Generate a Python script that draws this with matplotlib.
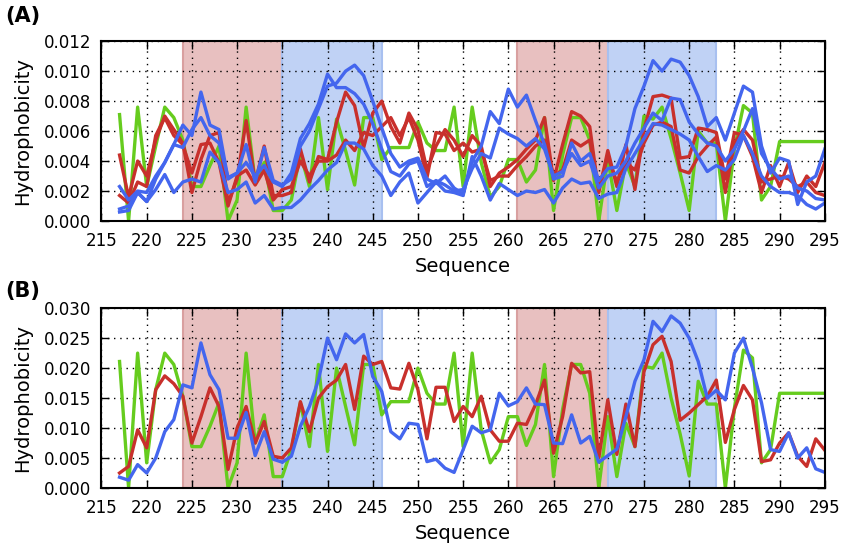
import matplotlib
matplotlib.use("Agg")
import matplotlib.pyplot as plt
import numpy as np

seq = np.arange(217, 296)

# panel (A)
green_a = [0.0071, 0.0000, 0.0076, 0.0023, 0.0050, 0.0076, 0.0069, 0.0054, 0.0023, 0.0023,
           0.0037, 0.0050, 0.0000, 0.0014, 0.0076, 0.0026, 0.0039, 0.0007, 0.0007,
           0.0014, 0.0045, 0.0023, 0.0069, 0.0021, 0.0068, 0.0047, 0.0024, 0.0069, 0.0069,
           0.0041, 0.0049, 0.0049, 0.0049, 0.0066, 0.0052, 0.0047, 0.0047, 0.0076, 0.0023, 0.0076,
           0.0039, 0.0016, 0.0023, 0.0041, 0.0041, 0.0026, 0.0034, 0.0069, 0.0007, 0.0044,
           0.0069, 0.0069, 0.0054, 0.0000, 0.0041, 0.0007, 0.0039, 0.0023, 0.0070, 0.0068, 0.0076,
           0.0055, 0.0032, 0.0007, 0.0060, 0.0052, 0.0052, 0.0000, 0.0048, 0.0077, 0.0072,
           0.0014, 0.0023, 0.0053, 0.0053, 0.0053, 0.0053, 0.0053, 0.0053]
red_a1 = [0.0044, 0.0016, 0.0040, 0.0030, 0.0054, 0.0070, 0.0061, 0.0052, 0.0019, 0.0041,
          0.0057, 0.0059, 0.0012, 0.0028, 0.0067, 0.0026, 0.0050, 0.0017, 0.0017,
          0.0019, 0.0048, 0.0026, 0.0043, 0.0041, 0.0066, 0.0086, 0.0077, 0.0049, 0.0072,
          0.0080, 0.0063, 0.0052, 0.0072, 0.0061, 0.0034, 0.0050, 0.0061, 0.0054, 0.0043, 0.0057,
          0.0050, 0.0023, 0.0032, 0.0036, 0.0041, 0.0048, 0.0054, 0.0069, 0.0027, 0.0051,
          0.0073, 0.0070, 0.0063, 0.0019, 0.0047, 0.0023, 0.0051, 0.0021, 0.0061, 0.0083, 0.0084,
          0.0082, 0.0042, 0.0043, 0.0062, 0.0061, 0.0059, 0.0028, 0.0059, 0.0057, 0.0043,
          0.0019, 0.0037, 0.0023, 0.0039, 0.0019, 0.0030, 0.0023, 0.0039]
red_a2 = [0.0017, 0.0012, 0.0026, 0.0023, 0.0057, 0.0069, 0.0057, 0.0051, 0.0032, 0.0051,
          0.0052, 0.0039, 0.0010, 0.0030, 0.0034, 0.0024, 0.0034, 0.0014, 0.0021,
          0.0023, 0.0040, 0.0030, 0.0040, 0.0040, 0.0044, 0.0054, 0.0047, 0.0059, 0.0057,
          0.0063, 0.0069, 0.0057, 0.0069, 0.0054, 0.0029, 0.0059, 0.0058, 0.0047, 0.0052, 0.0046,
          0.0048, 0.0027, 0.0030, 0.0030, 0.0037, 0.0043, 0.0050, 0.0054, 0.0030, 0.0034,
          0.0054, 0.0050, 0.0054, 0.0021, 0.0043, 0.0026, 0.0039, 0.0034, 0.0052, 0.0064, 0.0066,
          0.0063, 0.0034, 0.0032, 0.0043, 0.0050, 0.0056, 0.0019, 0.0052, 0.0061, 0.0054,
          0.0026, 0.0028, 0.0030, 0.0028, 0.0023, 0.0026, 0.0019, 0.0017]
blue_a1 = [0.0023, 0.0014, 0.0020, 0.0019, 0.0030, 0.0039, 0.0051, 0.0064, 0.0057, 0.0086,
           0.0064, 0.0061, 0.0028, 0.0032, 0.0051, 0.0026, 0.0049, 0.0027, 0.0024,
           0.0028, 0.0050, 0.0060, 0.0075, 0.0090, 0.0092, 0.0100, 0.0104, 0.0097, 0.0080,
           0.0062, 0.0045, 0.0036, 0.0040, 0.0042, 0.0028, 0.0025, 0.0030, 0.0022, 0.0018, 0.0040,
           0.0050, 0.0073, 0.0065, 0.0088, 0.0076, 0.0084, 0.0067, 0.0051, 0.0028, 0.0030,
           0.0052, 0.0040, 0.0045, 0.0027, 0.0035, 0.0036, 0.0050, 0.0075, 0.0090, 0.0107, 0.0100,
           0.0108, 0.0106, 0.0097, 0.0083, 0.0063, 0.0069, 0.0054, 0.0072, 0.0090, 0.0086,
           0.0050, 0.0032, 0.0042, 0.0040, 0.0011, 0.0026, 0.0030, 0.0048]
blue_a2 = [0.0008, 0.0010, 0.0019, 0.0013, 0.0028, 0.0039, 0.0051, 0.0049, 0.0061, 0.0069,
           0.0057, 0.0052, 0.0029, 0.0032, 0.0039, 0.0030, 0.0037, 0.0026, 0.0023,
           0.0032, 0.0055, 0.0065, 0.0078, 0.0098, 0.0089, 0.0089, 0.0085, 0.0078, 0.0065,
           0.0048, 0.0033, 0.0030, 0.0038, 0.0040, 0.0023, 0.0027, 0.0024, 0.0020, 0.0021, 0.0035,
           0.0045, 0.0042, 0.0062, 0.0058, 0.0055, 0.0050, 0.0055, 0.0048, 0.0030, 0.0033,
           0.0045, 0.0037, 0.0040, 0.0022, 0.0030, 0.0032, 0.0040, 0.0052, 0.0062, 0.0072, 0.0067,
           0.0082, 0.0081, 0.0066, 0.0058, 0.0052, 0.0050, 0.0040, 0.0048, 0.0060, 0.0075,
           0.0045, 0.0035, 0.0028, 0.0030, 0.0022, 0.0020, 0.0015, 0.0014]
blue_a3 = [0.0006, 0.0007, 0.0019, 0.0013, 0.0021, 0.0031, 0.0019, 0.0026, 0.0028, 0.0026,
           0.0046, 0.0039, 0.0019, 0.0021, 0.0026, 0.0012, 0.0017, 0.0008, 0.0009,
           0.0009, 0.0014, 0.0021, 0.0027, 0.0034, 0.0039, 0.0052, 0.0052, 0.0048, 0.0037,
           0.0030, 0.0017, 0.0026, 0.0032, 0.0012, 0.0019, 0.0026, 0.0020, 0.0019, 0.0017, 0.0043,
           0.0030, 0.0014, 0.0025, 0.0021, 0.0017, 0.0020, 0.0019, 0.0021, 0.0012, 0.0022,
           0.0028, 0.0025, 0.0026, 0.0015, 0.0018, 0.0019, 0.0035, 0.0045, 0.0055, 0.0065, 0.0064,
           0.0061, 0.0058, 0.0054, 0.0043, 0.0033, 0.0037, 0.0034, 0.0041, 0.0057, 0.0045,
           0.0030, 0.0023, 0.0019, 0.0019, 0.0017, 0.0011, 0.0008, 0.0012]

# panel (B)
green_b = [0.0211, 0.0000, 0.0225, 0.0042, 0.0164, 0.0225, 0.0206, 0.0153, 0.0069, 0.0069,
           0.0103, 0.0142, 0.0000, 0.0042, 0.0225, 0.0075, 0.0122, 0.0019, 0.0019,
           0.0064, 0.0142, 0.0069, 0.0206, 0.0061, 0.0200, 0.0136, 0.0072, 0.0206, 0.0206,
           0.0122, 0.0144, 0.0144, 0.0144, 0.0200, 0.0158, 0.0140, 0.0140, 0.0225, 0.0069, 0.0225,
           0.0097, 0.0042, 0.0064, 0.0119, 0.0119, 0.0071, 0.0106, 0.0206, 0.0019, 0.0131,
           0.0206, 0.0206, 0.0158, 0.0000, 0.0119, 0.0019, 0.0108, 0.0069, 0.0203, 0.0200, 0.0225,
           0.0150, 0.0090, 0.0020, 0.0178, 0.0140, 0.0140, 0.0000, 0.0133, 0.0230, 0.0217,
           0.0042, 0.0064, 0.0158, 0.0158, 0.0158, 0.0158, 0.0158, 0.0158]
red_b = [0.0025, 0.0036, 0.0097, 0.0067, 0.0164, 0.0187, 0.0174, 0.0153, 0.0075, 0.0119,
         0.0167, 0.0136, 0.0031, 0.0100, 0.0136, 0.0075, 0.0111, 0.0053, 0.0050,
         0.0067, 0.0144, 0.0094, 0.0150, 0.0169, 0.0180, 0.0206, 0.0131, 0.0220, 0.0206,
         0.0211, 0.0167, 0.0165, 0.0208, 0.0164, 0.0082, 0.0168, 0.0168, 0.0111, 0.0136, 0.0119,
         0.0153, 0.0097, 0.0078, 0.0078, 0.0108, 0.0106, 0.0139, 0.0180, 0.0058, 0.0119,
         0.0208, 0.0192, 0.0194, 0.0050, 0.0147, 0.0056, 0.0140, 0.0069, 0.0194, 0.0239, 0.0253,
         0.0211, 0.0113, 0.0125, 0.0139, 0.0153, 0.0180, 0.0076, 0.0131, 0.0171, 0.0147,
         0.0044, 0.0047, 0.0075, 0.0092, 0.0053, 0.0036, 0.0082, 0.0063]
blue_b = [0.0018, 0.0013, 0.0039, 0.0025, 0.0050, 0.0094, 0.0114, 0.0172, 0.0167, 0.0242,
          0.0189, 0.0164, 0.0083, 0.0083, 0.0126, 0.0054, 0.0094, 0.0048, 0.0043,
          0.0053, 0.0103, 0.0136, 0.0180, 0.0250, 0.0214, 0.0257, 0.0242, 0.0256, 0.0186,
          0.0161, 0.0094, 0.0082, 0.0108, 0.0106, 0.0044, 0.0048, 0.0033, 0.0026, 0.0064, 0.0103,
          0.0092, 0.0097, 0.0158, 0.0137, 0.0144, 0.0167, 0.0140, 0.0139, 0.0075, 0.0074,
          0.0122, 0.0075, 0.0086, 0.0043, 0.0054, 0.0065, 0.0119, 0.0178, 0.0214, 0.0278, 0.0261,
          0.0287, 0.0275, 0.0250, 0.0211, 0.0150, 0.0163, 0.0147, 0.0225, 0.0250, 0.0200,
          0.0142, 0.0064, 0.0061, 0.0092, 0.0050, 0.0067, 0.0032, 0.0026]

red_spans = [(224, 235), (261, 271)]
blue_spans = [(235, 246), (271, 283)]

GREEN = '#66cc1e'
RED = '#c8302c'
BLUE = '#4466ee'


def style_axes(ax, ymax, ystep):
    for a, b in red_spans:
        ax.axvspan(a, b, facecolor='#e8c0c0', edgecolor='#d9a0a0', lw=1.5, zorder=0)
    for a, b in blue_spans:
        ax.axvspan(a, b, facecolor='#c0d2f5', edgecolor='#a8c0f0', lw=1.5, zorder=0)
    ax.set_xlim(215, 295)
    ax.set_ylim(0, ymax)
    ax.set_xticks(np.arange(215, 296, 5))
    ax.set_yticks(np.arange(0, ymax + ystep / 2, ystep))
    ax.yaxis.set_major_formatter(matplotlib.ticker.FormatStrFormatter('%.3f'))
    ax.grid(True, color='k', linestyle=(0, (1, 3.5)), linewidth=1.0)
    ax.tick_params(direction='in', top=True, right=True, length=6, width=1,
                   labelsize=12)
    ax.tick_params(axis='x', pad=8)
    ax.tick_params(axis='y', pad=7.5)
    for s in ax.spines.values():
        s.set_linewidth(1.5)
    ax.set_xlabel('Sequence', fontsize=14, labelpad=5)
    ax.set_ylabel('Hydrophobicity', fontsize=14, labelpad=8)


fig = plt.figure(figsize=(8.47, 5.45), dpi=100)
ax_a = fig.add_axes([0.1198, 0.5945, 0.854, 0.330])
ax_b = fig.add_axes([0.1198, 0.1046, 0.854, 0.330])

lw = 2.4
ax_a.plot(seq, green_a, color=GREEN, lw=lw)
for ys in (red_a1, red_a2):
    ax_a.plot(seq, ys, color=RED, lw=lw)
for ys in (blue_a1, blue_a2, blue_a3):
    ax_a.plot(seq, ys, color=BLUE, lw=lw)
style_axes(ax_a, 0.012, 0.002)

ax_b.plot(seq, green_b, color=GREEN, lw=lw)
ax_b.plot(seq, red_b, color=RED, lw=lw)
ax_b.plot(seq, blue_b, color=BLUE, lw=lw)
style_axes(ax_b, 0.030, 0.005)

fig.text(0.006, 0.96, '(A)', fontsize=15, fontweight='bold')
fig.text(0.006, 0.455, '(B)', fontsize=15, fontweight='bold')

fig.savefig('out.png', dpi=100)
